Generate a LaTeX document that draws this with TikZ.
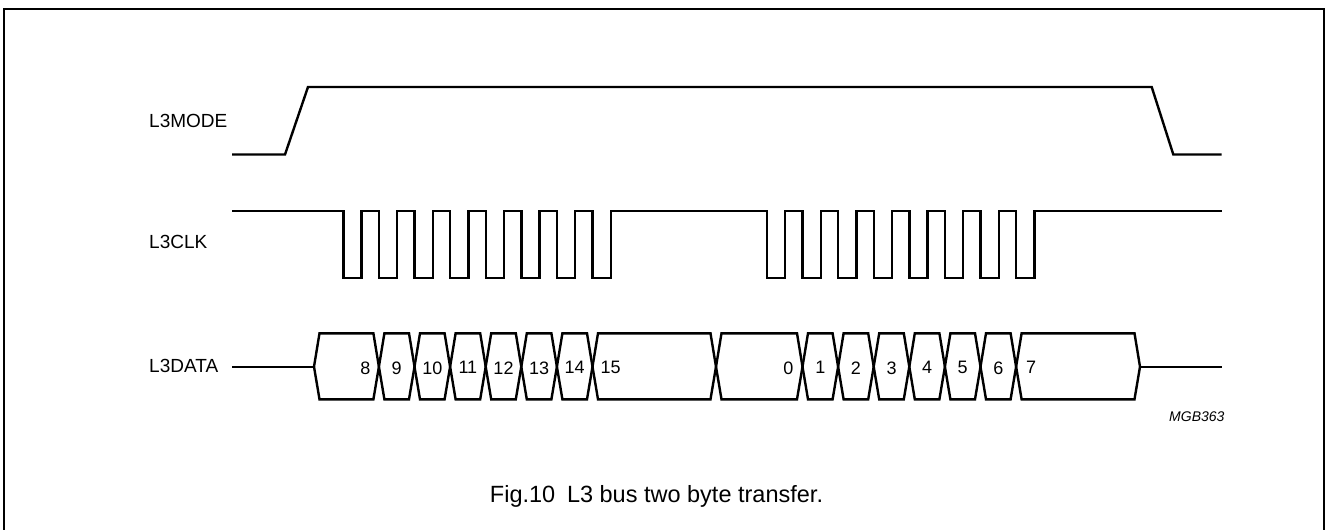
\documentclass[tikz,border=0pt]{standalone}
\usepackage{fontspec}
\setmainfont{Liberation Sans}

\tikzset{
    frame/.style={line width=2pt},
    wave/.style={line width=2.4pt, line join=miter},
    signame/.style={anchor=base west, inner sep=0pt, font=\fontsize{19}{21}\selectfont},
    bitno/.style={inner sep=0pt, font=\fontsize{18}{20}\selectfont}
}

\begin{document}
\begin{tikzpicture}[x=1pt, y=-1pt]

\useasboundingbox (0,0) rectangle (1326,530);
\draw[frame] (4,530) -- (4,9) -- (1324,9) -- (1324,530);

% ===== Signal names =====
\node[signame] (mode) at (149,127.7) {L3MODE};
\node[signame] (clk)  at (149,248.3) {L3CLK};
\node[signame] (data) at (149,372.3) {L3DATA};

% ===== L3MODE =====
\draw[wave] (232,154.5) -- (285,154.5) -- (308,87) -- (1151.7,87)
    -- (1173.3,154.5) -- (1221.7,154.5);

% ===== L3CLK: two bursts of 8 clocks =====
\draw[wave] (232,210.7)
    \foreach \k in {0,...,7} { -- ({343.3+35.6*\k},210.7) -- ++(0,67) -- ++(18.2,0) -- ++(0,-67) }
    \foreach \k in {0,...,7} { -- ({766.9+35.6*\k},210.7) -- ++(0,67) -- ++(18.2,0) -- ++(0,-67) }
    -- (1221.7,210.7);

% ===== L3DATA =====
\draw[wave] (232,366.7) -- (314,366.7);
\draw[wave] (1140,366.7) -- (1221.7,366.7);
\foreach \a/\b in {314/378.9, 378.9/414.5, 414.5/450.1, 450.1/485.7, 485.7/521.3,
                   521.3/556.9, 556.9/592.5, 592.5/716, 716/802.5, 802.5/838.1,
                   838.1/873.7, 873.7/909.3, 909.3/944.9, 944.9/980.5,
                   980.5/1016.1, 1016.1/1140}
    \draw[wave] (\a,366.7) -- ({\a+5.5},333.3) -- ({\b-5.5},333.3) -- (\b,366.7)
        -- ({\b-5.5},399.3) -- ({\a+5.5},399.3) -- cycle;

% bit numbers, first byte
\node[bitno, anchor=east] (b8) at (370.5,367.8) {8};
\foreach \n/\x in {9/396.7, 10/432.3, 11/467.9, 12/503.5, 13/539.1, 14/574.7}
    \node[bitno] (b\n) at (\x,367.8) {\n};
\node[bitno, anchor=west] (b15) at (600.5,367.8) {15};

% bit numbers, second byte
\node[bitno, anchor=east] (b0) at (793.5,367.8) {0};
\foreach \n/\x in {1/820.3, 2/855.9, 3/891.5, 4/927.1, 5/962.7, 6/998.3}
    \node[bitno] (b\n) at (\x,367.8) {\n};
\node[bitno, anchor=west] (b7) at (1026,367.8) {7};

% ===== Code and caption =====
\node[anchor=base west, inner sep=0pt, font=\fontsize{14}{16}\selectfont\itshape] (code) at (1169,421) {MGB363};
\node[anchor=base, inner sep=0pt, font=\fontsize{23.5}{26}\selectfont] (caption) at (656.5,502.7) {Fig.10\hspace{0.5em}L3 bus two byte transfer.};

\end{tikzpicture}
\end{document}
